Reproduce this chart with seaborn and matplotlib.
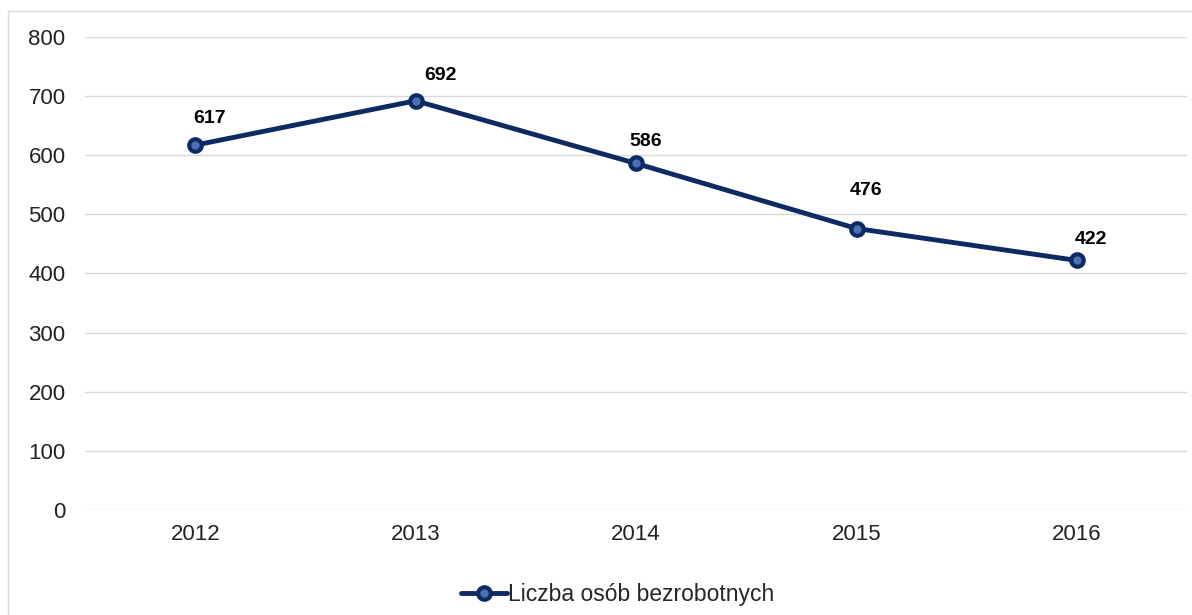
import matplotlib
matplotlib.use("Agg")
import matplotlib.pyplot as plt
import seaborn as sns
import pandas as pd
from matplotlib.patches import Rectangle

years = ['2012', '2013', '2014', '2015', '2016']
values = [617, 692, 586, 476, 422]
series_name = 'Liczba osób bezrobotnych'

# przesuniecia etykiet (w punktach) - jak w oryginale
label_dx = [10, 18, 7, 7, 10]
label_dy = [13, 12, 10, 21, 9]

df = pd.DataFrame({'Rok': years, 'Wartosc': values})

sns.set_style('white')
plt.rcParams['font.family'] = ['Liberation Sans', 'DejaVu Sans']

color = '#0e2a63'

fig = plt.figure(figsize=(11.92, 6.15), dpi=100)
ax = fig.add_axes([0.0713, 0.1707, 0.9247, 0.7693])

sns.lineplot(data=df, x='Rok', y='Wartosc', ax=ax, color=color, linewidth=3.5,
             marker='o', markersize=9, markeredgewidth=3, markeredgecolor=color,
             markerfacecolor='#4d70b0', label=series_name)

for i, v in enumerate(values):
    ax.annotate(str(v), (i, v), xytext=(label_dx[i], label_dy[i]), textcoords='offset points',
                ha='center', va='bottom', fontsize=14, fontweight='bold', color='black')

ax.set_xlim(-0.5, len(years) - 0.5)
ax.set_ylim(0, 800)
ax.set_yticks(range(0, 801, 100))
ax.grid(axis='y', color='#d9d9d9', linewidth=1)
ax.set_axisbelow(True)
for s in ax.spines.values():
    s.set_visible(False)
ax.tick_params(axis='both', length=0, labelsize=16, colors='#222222')
ax.tick_params(axis='y', pad=14)
ax.tick_params(axis='x', pad=10)
ax.set_xlabel('')
ax.set_ylabel('')

leg = ax.legend(loc='upper center', bbox_to_anchor=(0.483, -0.11), frameon=False,
                fontsize=16.5, handlelength=2.0, handletextpad=0.05)

fig.patches.append(Rectangle((8 / 1192, -0.1), 1.2, 1 - 11 / 615 + 0.1,
                             transform=fig.transFigure, fill=False,
                             edgecolor='#d9d9d9', linewidth=1))

fig.savefig('out.png', dpi=100)
